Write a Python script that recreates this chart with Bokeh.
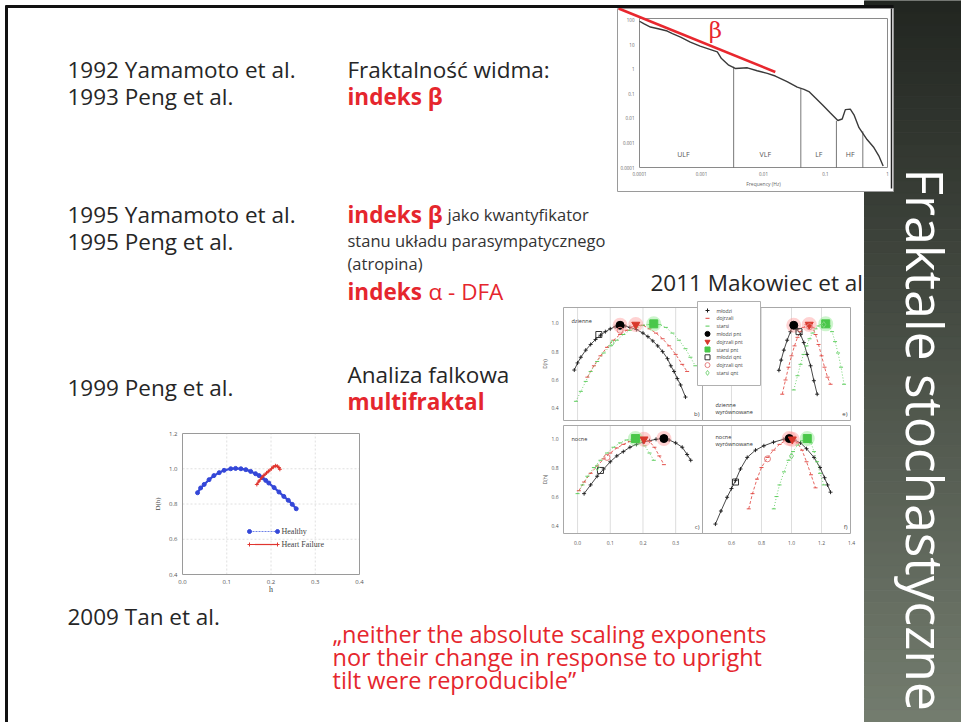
import numpy as np
from bokeh.plotting import figure
from bokeh.models import Range1d
from bokeh.core.properties import value
from bokeh.embed import file_html
from bokeh.resources import INLINE

# ---------------------------------------------------------------- data
# HRV power spectrum (frequency in Hz, power)
spec_freq = [1.0e-4, 1.17e-4, 1.5e-4, 2.0e-4, 2.8e-4, 3.4e-4, 4.6e-4, 6.6e-4, 9.5e-4,
             1.4e-3, 1.8e-3, 2.1e-3, 2.75e-3, 3.5e-3, 5.5e-3, 7.9e-3, 0.0115, 0.0155,
             0.024, 0.035, 0.045, 0.054, 0.069, 0.089, 0.12, 0.158, 0.186, 0.209,
             0.251, 0.288, 0.347, 0.468, 0.603, 0.724, 0.851]
spec_power = [93, 74, 54, 46, 37, 29, 21, 13, 8.9, 6.5, 5.2, 2.8, 1.5, 1.1, 1.17,
              0.89, 0.69, 0.54, 0.32, 0.19, 0.155, 0.126, 0.068, 0.036, 0.0166,
              0.0083, 0.0095, 0.023, 0.024, 0.0141, 0.0042, 0.00138, 0.00065,
              0.0003, 0.000115]
band_edges = [0.0033, 0.04, 0.15, 0.4]
band_edge_power = [1.3, 0.16, 0.008, 0.003]
band_names = ["ULF", "VLF", "LF", "HF"]
band_label_freq = [5.1e-4, 0.0107, 0.078, 0.25]
spec_xticks = [1e-4, 1e-3, 1e-2, 1e-1, 1]
spec_xtick_labels = ["0.0001", "0.001", "0.01", "0.1", "1"]
spec_yticks = [100, 10, 1, 0.1, 0.01, 0.001, 0.0001]
spec_ytick_labels = ["100", "10", "1", "0.1", "0.01", "0.001", "0.0001"]
beta_freq = [4.6e-5, 0.0155]
beta_power = [306, 0.785]

# Multifractal spectra, Peng 1999
healthy_h = [0.034, 0.041, 0.049, 0.060, 0.071, 0.083, 0.094, 0.109, 0.120, 0.132,
             0.143, 0.154, 0.165, 0.173, 0.180, 0.188, 0.195, 0.207, 0.218, 0.229,
             0.239, 0.248, 0.257]
healthy_D = [0.864, 0.891, 0.911, 0.938, 0.961, 0.978, 0.991, 1.000, 1.002, 1.000,
             0.995, 0.985, 0.972, 0.961, 0.949, 0.934, 0.919, 0.893, 0.868, 0.843,
             0.821, 0.798, 0.773]
hf_h = [0.168, 0.173, 0.179, 0.184, 0.190, 0.195, 0.201, 0.205, 0.210, 0.214, 0.218, 0.220]
hf_D = [0.911, 0.930, 0.949, 0.963, 0.976, 0.987, 1.000, 1.010, 1.017, 1.015, 1.006, 0.997]
peng_xticks = [0.0, 0.1, 0.2, 0.3, 0.4]
peng_yticks = [0.4, 0.6, 0.8, 1.0, 1.2]
peng_series = ["Healthy", "Heart Failure"]

# Makowiec 2011: four panels, three age groups each
tl_blk_x = [-0.01, 0.00, 0.01, 0.025, 0.04, 0.055, 0.07, 0.085, 0.10, 0.115, 0.13, 0.145,
            0.16, 0.18, 0.20, 0.215, 0.23, 0.245, 0.26, 0.275, 0.285, 0.295, 0.305, 0.315, 0.33]
tl_blk_y = [0.67, 0.72, 0.76, 0.81, 0.85, 0.885, 0.915, 0.94, 0.96, 0.975, 0.985, 0.98,
            0.97, 0.955, 0.93, 0.905, 0.875, 0.84, 0.80, 0.75, 0.70, 0.66, 0.61, 0.565, 0.48]
tl_red_x = [0.03, 0.05, 0.07, 0.09, 0.11, 0.13, 0.15, 0.17, 0.185, 0.20, 0.22, 0.24, 0.26,
            0.28, 0.30, 0.32, 0.335]
tl_red_y = [0.62, 0.70, 0.77, 0.83, 0.88, 0.92, 0.95, 0.975, 0.985, 0.985, 0.96, 0.93, 0.89,
            0.84, 0.78, 0.71, 0.66]
tl_grn_x = [-0.005, 0.01, 0.025, 0.04, 0.06, 0.08, 0.10, 0.12, 0.14, 0.16, 0.18, 0.20, 0.22,
            0.235, 0.25, 0.27, 0.29, 0.31, 0.33, 0.345, 0.36]
tl_grn_y = [0.45, 0.52, 0.59, 0.66, 0.73, 0.79, 0.84, 0.88, 0.92, 0.95, 0.97, 0.985, 0.99,
            0.995, 0.99, 0.97, 0.93, 0.88, 0.82, 0.76, 0.70]
tl_peak_x = [0.13, 0.178, 0.233]
tl_peak_y = [0.985, 0.99, 0.995]
tl_open_x = [0.065, 0.13, 0.106]
tl_open_y = [0.92, 0.95, 0.86]

tr_blk_x = [0.916, 0.931, 0.949, 0.971, 0.993, 1.016, 1.038, 1.060, 1.082, 1.104, 1.127, 1.149, 1.171]
tr_blk_y = [0.668, 0.74, 0.81, 0.88, 0.94, 0.985, 0.957, 0.92, 0.863, 0.78, 0.70, 0.595, 0.50]
tr_red_x = [0.938, 0.96, 0.98, 1.00, 1.02, 1.04, 1.06, 1.08, 1.10, 1.115, 1.14, 1.16, 1.18,
            1.20, 1.22, 1.24, 1.26]
tr_red_y = [0.50, 0.60, 0.69, 0.77, 0.84, 0.90, 0.94, 0.97, 0.99, 0.995, 0.97, 0.92, 0.85,
            0.77, 0.69, 0.62, 0.57]
tr_grn_x = [1.015, 1.04, 1.06, 1.08, 1.10, 1.12, 1.14, 1.16, 1.18, 1.20, 1.227, 1.25, 1.27,
            1.29, 1.31, 1.33, 1.35]
tr_grn_y = [0.53, 0.63, 0.71, 0.78, 0.84, 0.89, 0.93, 0.96, 0.98, 0.99, 1.0, 0.98, 0.94,
            0.87, 0.79, 0.69, 0.57]
tr_peak_x = [1.015, 1.118, 1.228]
tr_peak_y = [0.985, 0.99, 0.995]
tr_open_x = [1.05, 1.12, 1.215]
tr_open_y = [0.94, 0.975, 0.99]

bl_blk_x = [0.02, 0.04, 0.06, 0.08, 0.10, 0.12, 0.14, 0.16, 0.18, 0.20, 0.22, 0.24, 0.264,
            0.28, 0.30, 0.32, 0.335, 0.346]
bl_blk_y = [0.62, 0.68, 0.74, 0.79, 0.84, 0.88, 0.91, 0.94, 0.96, 0.975, 0.985, 0.995, 1.0,
            0.99, 0.97, 0.94, 0.89, 0.85]
bl_red_x = [0.004, 0.02, 0.04, 0.06, 0.08, 0.10, 0.12, 0.14, 0.16, 0.18, 0.203, 0.22, 0.235,
            0.25, 0.264]
bl_red_y = [0.64, 0.70, 0.76, 0.81, 0.86, 0.90, 0.935, 0.96, 0.98, 0.995, 1.0, 0.98, 0.94,
            0.88, 0.82]
bl_grn_x = [0.0, 0.015, 0.03, 0.05, 0.07, 0.09, 0.11, 0.13, 0.15, 0.177, 0.19, 0.205, 0.22, 0.233]
bl_grn_y = [0.62, 0.68, 0.74, 0.80, 0.85, 0.90, 0.94, 0.97, 0.99, 1.0, 0.985, 0.95, 0.90, 0.85]
bl_peak_x = [0.264, 0.203, 0.177]
bl_peak_y = [1.0, 0.995, 1.0]
bl_open_x = [0.07, 0.09, 0.06]
bl_open_y = [0.78, 0.87, 0.80]

br_blk_x = [0.493, 0.53, 0.571, 0.60, 0.627, 0.66, 0.705, 0.76, 0.816, 0.88, 0.949, 0.985,
            1.02, 1.06, 1.10, 1.15, 1.19, 1.22, 1.24, 1.26]
br_blk_y = [0.41, 0.50, 0.595, 0.655, 0.71, 0.79, 0.87, 0.92, 0.95, 0.975, 0.995, 1.0,
            0.99, 0.97, 0.93, 0.87, 0.80, 0.73, 0.68, 0.63]
br_red_x = [0.715, 0.74, 0.77, 0.80, 0.84, 0.88, 0.92, 0.96, 1.005, 1.04, 1.07, 1.10, 1.13, 1.16]
br_red_y = [0.515, 0.62, 0.72, 0.80, 0.87, 0.92, 0.96, 0.985, 0.995, 0.97, 0.92, 0.84, 0.75, 0.66]
br_grn_x = [0.882, 0.90, 0.92, 0.95, 0.98, 1.01, 1.04, 1.07, 1.105, 1.13, 1.15, 1.17, 1.19, 1.215]
br_grn_y = [0.515, 0.60, 0.68, 0.77, 0.85, 0.91, 0.955, 0.985, 1.0, 0.97, 0.91, 0.84, 0.76, 0.68]
br_peak_x = [0.985, 1.005, 1.105]
br_peak_y = [1.0, 0.995, 1.0]
br_open_x = [0.627, 0.84, 1.0]
br_open_y = [0.70, 0.86, 0.88]

mk_left_xticks = [0.0, 0.1, 0.2, 0.3]
mk_right_xticks = [0.6, 0.8, 1.0, 1.2, 1.4]
mk_yticks = [0.4, 0.6, 0.8, 1.0]
mk_legend = ["młodzi", "dojrzali", "starsi", "młodzi pnt", "dojrzali pnt", "starsi pnt",
             "młodzi qnt", "dojrzali qnt", "starsi qnt"]

# ---------------------------------------------------------------- figure
W, H = 961, 722
RED = "#e5262d"
INK = "#262626"
FONT = "Open Sans"

p = figure(width=W, height=H, x_range=Range1d(0, W), y_range=Range1d(H, 0),
           x_axis_location=None, y_axis_location=None, toolbar_location=None,
           output_backend="svg", min_border=0, outline_line_color=None,
           background_fill_color="white", border_fill_color="white")
p.grid.visible = False


def txt(x, y, s, size, color=INK, style="normal", font=FONT, align="left",
        baseline="alphabetic", angle=0.0):
    return p.text(x=[x], y=[y], text=[s], text_font=value(font),
                  text_font_size=f"{size}px", text_color=color,
                  text_font_style=style, text_align=align,
                  text_baseline=baseline, angle=angle)


def sub(xs, ys, xt, yt):
    return p.subplot(x_source=Range1d(*xs), y_source=Range1d(*ys),
                     x_target=Range1d(*xt), y_target=Range1d(*yt))


# ---- body text
txt(67, 69, "1992 Yamamoto et al.", 22.5)
txt(67, 96, "1993 Peng et al.", 22.5)
txt(347, 69, "Fraktalność widma:", 22.5)
txt(347, 96, "indeks β", 22.5, RED, "bold")

txt(67, 214, "1995 Yamamoto et al.", 22.5)
txt(67, 241, "1995 Peng et al.", 22.5)
txt(347, 214, "indeks β", 22.5, RED, "bold")
txt(447, 214, "jako kwantyfikator", 16.5, "#333333")
txt(347, 240, "stanu układu parasympatycznego", 16.5, "#333333")
txt(347, 263, "(atropina)", 16.5, "#333333")
txt(347, 291, "indeks", 22.5, RED, "bold")
txt(428, 291, "α - DFA", 22.5, RED)

txt(67, 387, "1999 Peng et al.", 22.5)
txt(347, 374, "Analiza falkowa", 22.5)
txt(347, 401, "multifraktal", 22.5, RED, "bold")

txt(67, 616, "2009 Tan et al.", 22.5)
quote = ["„neither the absolute scaling exponents",
         "nor their change in response to upright",
         "tilt were reproducible”"]
for i, line in enumerate(quote):
    txt(332, 633 + 23 * i, line, 23.5, RED)

txt(650, 282, "2011 Makowiec et al.", 22.5)

# ---- Makowiec four-panel figure
mk_style = {
    "blk": dict(color="#1a1a1a", dash="solid", marker="cross"),
    "red": dict(color="#e0403a", dash="3 2", marker="dash"),
    "grn": dict(color="#52c952", dash="1 2", marker="dash"),
}
panels = [
    dict(xs=(-0.043, 0.382), ys=(0.315, 1.11), xt=(563, 702), yt=(420, 307),
         series=[("blk", tl_blk_x, tl_blk_y), ("red", tl_red_x, tl_red_y), ("grn", tl_grn_x, tl_grn_y)],
         peak=(tl_peak_x, tl_peak_y), opn=(tl_open_x, tl_open_y), ticks=mk_left_xticks,
         name=["dzienne"], tag="b)"),
    dict(xs=(0.407, 1.393), ys=(0.315, 1.11), xt=(702, 850), yt=(420, 307),
         series=[("blk", tr_blk_x, tr_blk_y), ("red", tr_red_x, tr_red_y), ("grn", tr_grn_x, tr_grn_y)],
         peak=(tr_peak_x, tr_peak_y), opn=(tr_open_x, tr_open_y), ticks=mk_right_xticks,
         name=["dzienne", "wyrównowane"], tag="e)"),
    dict(xs=(-0.043, 0.382), ys=(0.345, 1.09), xt=(563, 702), yt=(533, 425),
         series=[("blk", bl_blk_x, bl_blk_y), ("red", bl_red_x, bl_red_y), ("grn", bl_grn_x, bl_grn_y)],
         peak=(bl_peak_x, bl_peak_y), opn=(bl_open_x, bl_open_y), ticks=mk_left_xticks,
         name=["nocne"], tag="c)"),
    dict(xs=(0.407, 1.393), ys=(0.345, 1.09), xt=(702, 850), yt=(533, 425),
         series=[("blk", br_blk_x, br_blk_y), ("red", br_red_x, br_red_y), ("grn", br_grn_x, br_grn_y)],
         peak=(br_peak_x, br_peak_y), opn=(br_open_x, br_open_y), ticks=mk_right_xticks,
         name=["nocne", "wyrównowane"], tag="f)"),
]
peak_markers = ["circle", "inverted_triangle", "square"]
peak_colors = ["#000000", "#d8382c", "#49c749"]
halo_colors = ["#ff9b9b", "#ff9b9b", "#8de88d"]
open_markers = ["square", "circle", "diamond"]
open_colors = ["#333333", "#e58080", "#7fd67f"]

for k, pn in enumerate(panels):
    g = sub(pn["xs"], pn["ys"], pn["xt"], pn["yt"])
    x0, x1 = pn["xs"]
    y0, y1 = pn["ys"]
    for t in pn["ticks"]:
        if x0 < t < x1:
            g.segment(x0=[t], y0=[y0], x1=[t], y1=[y1], line_color="#d4d4d4", line_width=0.8)
    g.quad(left=[x0], right=[x1], bottom=[y0], top=[y1], fill_color=None,
           line_color="#a8a8a8", line_width=1)
    for key, xs_, ys_ in pn["series"]:
        st = mk_style[key]
        g.line(xs_, ys_, line_color=st["color"], line_width=0.8, line_dash=st["dash"])
        g.scatter(xs_, ys_, marker=st["marker"], size=4, line_color=st["color"],
                  fill_color=None, line_width=0.9)
    px, py = pn["peak"]
    g.scatter(px, py, marker="circle", size=15, fill_color=halo_colors, line_color=None,
              fill_alpha=0.45)
    g.scatter(px, py, marker=peak_markers, size=8, fill_color=peak_colors,
              line_color=peak_colors)
    ox, oy = pn["opn"]
    g.scatter(ox, oy, marker=open_markers, size=6, fill_color=None,
              line_color=open_colors, line_width=1)
    if k in (0, 2):
        g.text(x=[x0], y=[y1], text=pn["name"], x_offset=8, y_offset=13,
               text_font=value(FONT), text_font_size="5.5px", text_color="#333",
               text_baseline="middle")
    elif k == 1:
        for j, nm in enumerate(pn["name"]):
            g.text(x=[x0], y=[y0], text=[nm], x_offset=13, y_offset=-16 + 7 * j,
                   text_font=value(FONT), text_font_size="5.5px", text_color="#333",
                   text_baseline="middle")
    else:
        for j, nm in enumerate(pn["name"]):
            g.text(x=[x0], y=[y1], text=[nm], x_offset=13, y_offset=11 + 7 * j,
                   text_font=value(FONT), text_font_size="5.5px", text_color="#333",
                   text_baseline="middle")
    g.text(x=[x1], y=[y0], text=[pn["tag"]], x_offset=-3, y_offset=-3,
           text_font=value(FONT), text_font_size="6px", text_color="#444",
           text_align="right", text_baseline="bottom")
    if k % 2 == 0:
        for t in mk_yticks:
            g.text(x=[x0], y=[t], text=[f"{t:.1f}"], x_offset=-5, text_font=value(FONT),
                   text_font_size="5px", text_color="#555", text_align="right",
                   text_baseline="middle")
        g.text(x=[x0], y=[0.5 * (y0 + y1)], text=["D(h)"], x_offset=-19, angle=np.pi / 2,
               text_font=value(FONT), text_font_size="5px", text_color="#555",
               text_align="center", text_baseline="middle")
    if k >= 2:
        for t in pn["ticks"]:
            g.text(x=[t], y=[y0], text=[f"{t:.1f}"], y_offset=9, text_font=value(FONT),
                   text_font_size="5px", text_color="#555", text_align="center",
                   text_baseline="middle")

# legend of the four-panel figure
p.quad(left=[697], right=[760], top=[301], bottom=[385], fill_color="white",
       line_color="#b0b0b0", line_width=1)
leg_y = [310 + 7.8 * i for i in range(len(mk_legend))]
leg_marker = ["cross", "dash", "dash"] + peak_markers + open_markers
leg_color = ["#1a1a1a", "#e0403a", "#52c952"] + peak_colors + open_colors
leg_fill = [None, None, None] + peak_colors + [None, None, None]
for i, lab in enumerate(mk_legend):
    p.scatter([707], [leg_y[i]], marker=leg_marker[i], size=5 if i >= 3 else 4,
              line_color=leg_color[i], fill_color=leg_fill[i])
    txt(716, leg_y[i], lab, 5, "#444", baseline="middle")

# ---- Peng 1999 multifractal spectrum
hs = sub((0.0, 0.4), (0.4, 1.2), (182, 359), (574, 433))
for t in peng_xticks[1:-1]:
    hs.segment(x0=[t], y0=[0.4], x1=[t], y1=[1.2], line_color="#d8d8d8", line_width=0.8,
               line_dash="2 2")
for t in peng_yticks[1:-1]:
    hs.segment(x0=[0.0], y0=[t], x1=[0.4], y1=[t], line_color="#d8d8d8", line_width=0.8,
               line_dash="2 2")
hs.quad(left=[0.0], right=[0.4], bottom=[0.4], top=[1.2], fill_color=None,
        line_color="#9a9a9a", line_width=1)
for t in peng_xticks:
    hs.text(x=[t], y=[0.4], text=[f"{t:.1f}"], y_offset=7, text_font=value(FONT),
            text_font_size="6px", text_color="#555", text_align="center", text_baseline="middle")
for t in peng_yticks:
    hs.text(x=[0.0], y=[t], text=[f"{t:.1f}"], x_offset=-5, text_font=value(FONT),
            text_font_size="6px", text_color="#555", text_align="right", text_baseline="middle")
hs.text(x=[0.2], y=[0.4], text=["h"], y_offset=15, text_font=value("Liberation Serif"),
        text_font_size="8px", text_color="#444", text_align="center", text_baseline="middle")
hs.text(x=[0.0], y=[0.8], text=["D(h)"], x_offset=-25, angle=np.pi / 2,
        text_font=value("Liberation Serif"), text_font_size="7px", text_color="#444",
        text_align="center", text_baseline="middle")
hs.line(healthy_h, healthy_D, line_color="#3447d8", line_width=2.2)
hs.scatter(healthy_h, healthy_D, marker="circle", size=4, fill_color="#3447d8",
           line_color="#3447d8")
hs.line(hf_h, hf_D, line_color="#e0352f", line_width=1.6)
hs.scatter(hf_h, hf_D, marker="cross", size=4, line_color="#e0352f")
# its legend
p.segment(x0=[249], y0=[531], x1=[277], y1=[531], line_color="#6f82e8", line_width=1.2,
          line_dash="2 1")
p.scatter([249, 277], [531, 531], marker="circle", size=4, fill_color="#3447d8",
          line_color="#3447d8")
p.segment(x0=[249], y0=[544], x1=[277], y1=[544], line_color="#e0352f", line_width=1.2)
p.scatter([249, 277], [544, 544], marker="cross", size=4, line_color="#e0352f")
txt(281, 531, peng_series[0], 8, "#444", font="Liberation Serif", baseline="middle")
txt(281, 544, peng_series[1], 8, "#444", font="Liberation Serif", baseline="middle")

# ---- dark side band with a vertical gradient
n = 60
edges = np.linspace(0, H, n + 1)
c0 = np.array([0x22, 0x26, 0x21])
c1 = np.array([0x74, 0x7d, 0x6f])
cols = []
for i in range(n):
    t = (i + 0.5) / n
    c = (c0 + (c1 - c0) * t).astype(int)
    cols.append("#%02x%02x%02x" % tuple(c))
p.quad(left=864, right=W, top=edges[:-1], bottom=edges[1:], fill_color=cols,
       line_color=cols)

# ---- HRV spectrum picture
p.quad(left=[617], right=[893], top=[8], bottom=[191], fill_color="white",
       line_color="#9a9a9a", line_width=1)
p.segment(x0=[891], y0=[8], x1=[891], y1=[188], line_color="#222", line_width=1.5)
sp = sub((-4.0, 0.0), (-4.0, 2.08), (639, 887), (167, 18))
sp.quad(left=[-4.0], right=[0.0], bottom=[-4.0], top=[2.08], fill_color=None,
        line_color="#8a8a8a", line_width=1)
lf = np.log10(spec_freq)
lp = np.log10(spec_power)
sp.segment(x0=np.log10(band_edges), y0=[-4.0] * 4, x1=np.log10(band_edges),
           y1=np.log10(band_edge_power), line_color="#555", line_width=0.8)
sp.line(lf, lp, line_color="#3a3a3a", line_width=1.4)
for nm, f in zip(band_names, band_label_freq):
    sp.text(x=[np.log10(f)], y=[-3.45], text=[nm], text_font=value(FONT),
            text_font_size="7px", text_color="#555", text_align="center",
            text_baseline="middle")
for v, lab in zip(spec_xticks, spec_xtick_labels):
    sp.text(x=[np.log10(v)], y=[-4.0], text=[lab], y_offset=6, text_font=value(FONT),
            text_font_size="4.5px", text_color="#666", text_align="center",
            text_baseline="middle")
for v, lab in zip(spec_yticks, spec_ytick_labels):
    sp.text(x=[-4.0], y=[np.log10(v)], text=[lab], x_offset=-5, text_font=value(FONT),
            text_font_size="4.5px", text_color="#666", text_align="right",
            text_baseline="middle")
sp.text(x=[-2.0], y=[-4.0], text=["Frequency (Hz)"], y_offset=16, text_font=value(FONT),
        text_font_size="5px", text_color="#666", text_align="center", text_baseline="middle")
sp.line(np.log10(beta_freq), np.log10(beta_power), line_color="#e8272e", line_width=2.6)
txt(715, 29, "β", 23, "#e8272e", font="DejaVu Serif", align="center")

# ---- slide frame
p.segment(x0=[5], y0=[6], x1=[893], y1=[6], line_color="#111", line_width=3)
p.segment(x0=[6], y0=[5], x1=[6], y1=[H], line_color="#111", line_width=3)

# ---- vertical title
txt(925, 168, "Fraktale stochastyczne", 51.5, "white", angle=-np.pi / 2)

open("out.html", "w").write(file_html(p, INLINE))
